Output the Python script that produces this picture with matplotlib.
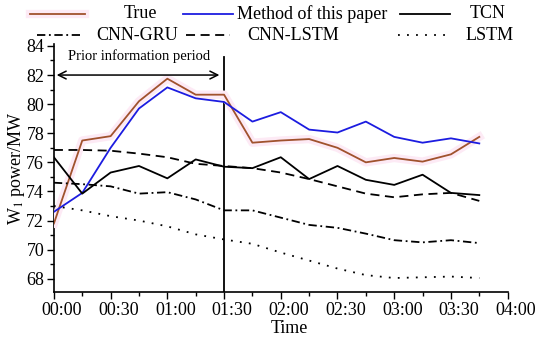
import matplotlib
matplotlib.use('Agg')
import matplotlib.pyplot as plt
import matplotlib.patheffects as pe
from matplotlib.lines import Line2D
from matplotlib.ticker import MultipleLocator
from matplotlib.transforms import ScaledTranslation

# time of each sample (minutes after 00:00)
minutes = [0, 15, 30, 45, 60, 75, 90, 105, 120, 135, 150, 165, 180, 195, 210, 225]
tick_minutes = [0, 30, 60, 90, 120, 150, 180, 210, 240]
tick_labels = ['00:00', '00:30', '01:00', '01:30', '02:00', '02:30', '03:00', '03:30', '04:00']

true_power = [71.8, 77.5, 77.8, 80.2, 81.75, 80.65, 80.65, 77.35, 77.5, 77.6, 77.0, 76.0, 76.3, 76.05, 76.55, 77.75]
method_power = [72.6, 73.9, 77.0, 79.7, 81.15, 80.4, 80.15, 78.8, 79.45, 78.25, 78.05, 78.8, 77.75, 77.35, 77.65, 77.3]
tcn_power = [76.35, 73.85, 75.3, 75.75, 74.9, 76.2, 75.7, 75.6, 76.35, 74.85, 75.75, 74.8, 74.45, 75.15, 73.9, 73.75]
cnn_gru_power = [74.6, 74.5, 74.35, 73.85, 73.95, 73.45, 72.7, 72.7, 72.2, 71.7, 71.5, 71.1, 70.65, 70.5, 70.65, 70.45]
cnn_lstm_power = [76.85, 76.85, 76.8, 76.6, 76.35, 75.9, 75.75, 75.6, 75.3, 74.85, 74.35, 73.85, 73.6, 73.8, 73.9, 73.35]
lstm_power = [73.0, 72.7, 72.3, 72.0, 71.6, 71.05, 70.7, 70.4, 69.8, 69.25, 68.7, 68.25, 68.05, 68.1, 68.15, 68.05]

prior_end = 90

plt.rcParams['font.family'] = ['Liberation Serif', 'DejaVu Serif']
plt.rcParams['lines.scale_dashes'] = False
plt.rcParams['mathtext.fontset'] = 'stix'

brown = '#a0522d'
blue = '#1c1ce0'
styles = [
    ('True', true_power, brown, '-', 1.3),
    ('Method of this paper', method_power, blue, '-', 1.3),
    ('TCN', tcn_power, 'black', '-', 1.3),
    ('CNN-GRU', cnn_gru_power, 'black', (0, (6, 2.6, 1.3, 2.6)), 1.3),
    ('CNN-LSTM', cnn_lstm_power, 'black', (0, (6.5, 4)), 1.3),
    ('LSTM', lstm_power, 'black', (0, (1.3, 5.2)), 1.3),
]
halo = [pe.Stroke(linewidth=6, foreground='#fdeaf5'), pe.Normal()]

fig = plt.figure(figsize=(5.5, 3.37), dpi=100)
ax = fig.add_axes([0.098, 0.134, 0.825, 0.734])

for name, vals, col, ls, lw in styles:
    if name == 'True':
        ax.plot(minutes, vals, color=col, ls=ls, lw=lw, path_effects=halo, zorder=3)
    else:
        ax.plot(minutes, vals, color=col, ls=ls, lw=lw, zorder=3)

ax.set_xlim(0, 240)
ax.set_ylim(67.1, 84.1)
ax.set_xticks(tick_minutes)
ax.set_xticklabels(tick_labels)
ax.xaxis.set_minor_locator(MultipleLocator(15))
ax.yaxis.set_major_locator(MultipleLocator(2))
ax.yaxis.set_minor_locator(MultipleLocator(1))
ax.tick_params(axis='both', which='major', labelsize=13, length=5, width=1, direction='out', pad=2)
ax.tick_params(axis='both', which='minor', length=3, width=1, direction='out')
for sp in ['top', 'right']:
    ax.spines[sp].set_visible(False)
for sp in ['left', 'bottom']:
    ax.spines[sp].set_linewidth(1.2)

# tick labels in the source sit a little to the right of their ticks
shift = ScaledTranslation(8 / 100, 0, fig.dpi_scale_trans)
for lab in ax.get_xticklabels():
    lab.set_transform(lab.get_transform() + shift)

ax.set_xlabel('Time', fontsize=13)
ax.xaxis.set_label_coords(0.52, -0.112)
ax.set_ylabel('W$_1$ power/MW', fontsize=13)
ax.yaxis.set_label_coords(-0.06, 0.5)

# prior information period marker
ax.axvline(prior_end, ymin=0, ymax=0.95, color='black', lw=1.3)
ax.annotate('', xy=(0, 82), xytext=(prior_end - 1, 82),
            arrowprops=dict(arrowstyle='<->', color='black', lw=1.1, mutation_scale=14))
ax.text(prior_end / 2, 83.3, 'Prior information period', fontsize=10.5, ha='center', va='center')

# legend drawn in figure coordinates, two rows of three
W, H = 550, 337
entries = [
    (30, 85, 140, 14), (183, 233, 312, 14), (400, 450, 488, 14),
    (37, 80, 137, 35), (186, 230, 293, 35), (398, 448, 490, 35),
]
for (x0, x1, xt, yy), (name, vals, col, ls, lw) in zip(entries, styles):
    ln = Line2D([x0 / W, x1 / W], [1 - yy / H, 1 - yy / H], transform=fig.transFigure,
                color=col, ls=ls, lw=lw)
    if name == 'True':
        ln.set_path_effects(halo)
    fig.add_artist(ln)
    fig.text(xt / W, 1 - yy / H, name, fontsize=13, ha='center', va='center')

fig.savefig('out.png', dpi=100)
